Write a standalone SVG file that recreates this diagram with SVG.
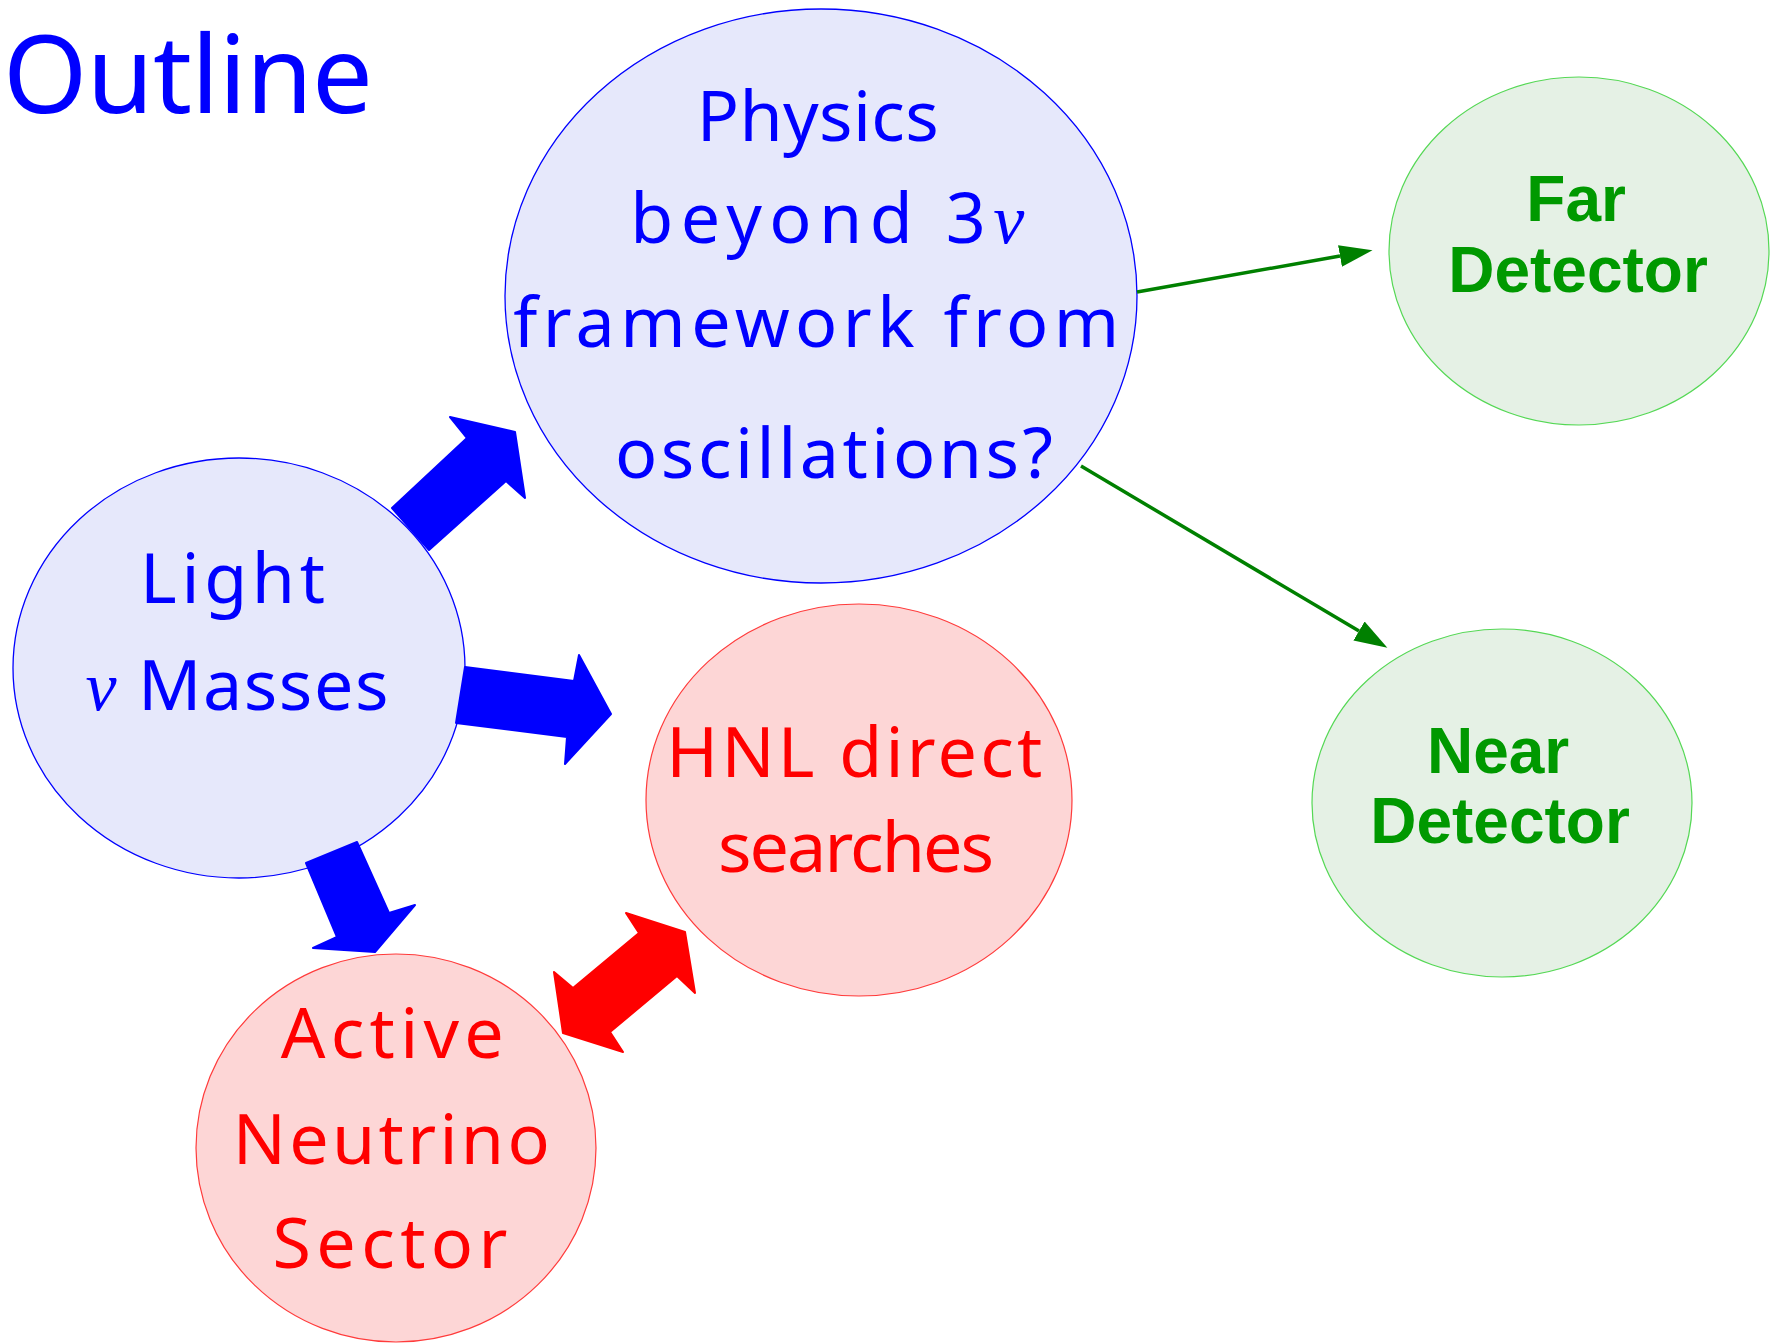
<svg xmlns="http://www.w3.org/2000/svg" width="1775" height="1344" viewBox="0 0 1775 1344">
  <style>
    .hand { font-family: "Noto Sans", "DejaVu Sans", sans-serif; text-anchor: middle; }
    .blue { fill: #0000ff; }
    .red { fill: #ff0000; }
    .nu { font-family: "Liberation Serif", serif; font-style: italic; }
    .det { font-family: "Liberation Sans", Arial, sans-serif; font-weight: bold; font-size: 64px; fill: #009900; text-anchor: middle; }
    .bnode { fill: #e6e8fb; stroke: #0000ff; stroke-width: 1.3; }
    .rnode { fill: #fdd6d6; stroke: #ff3b3b; stroke-width: 1.2; }
    .gnode { fill: #e5f1e5; stroke: #55d855; stroke-width: 1.2; }
    .link { stroke: #008000; stroke-width: 3.5; fill: none; marker-end: url(#head); }
  </style>
  <defs>
    <marker id="head" markerUnits="userSpaceOnUse" markerWidth="34" markerHeight="24" refX="0" refY="11" orient="auto" viewBox="0 0 34 22">
      <path d="M0,0 L33,11 L0,22 Z" fill="#008000"/>
    </marker>
  </defs>

  <rect width="1775" height="1344" fill="#ffffff"/>

  <text id="title" class="hand blue" x="3" y="113" font-size="108" style="text-anchor:start" textLength="370" lengthAdjust="spacing">Outline</text>

  <g id="node-physics">
    <ellipse class="bnode" cx="821" cy="296" rx="316" ry="287"/>
    <text class="hand blue" font-size="70">
      <tspan x="827" y="141" textLength="242" lengthAdjust="spacing">Physics</tspan>
      <tspan x="840" y="243" textLength="394" lengthAdjust="spacing">beyond 3<tspan class="nu">ν</tspan></tspan>
      <tspan x="828" y="347" textLength="606" lengthAdjust="spacing">framework from</tspan>
      <tspan x="834" y="478" textLength="438" lengthAdjust="spacing">oscillations?</tspan>
    </text>
  </g>

  <g id="node-light">
    <ellipse class="bnode" cx="239" cy="668" rx="226" ry="210"/>
    <text class="hand blue" font-size="70">
      <tspan x="244" y="603" textLength="185" lengthAdjust="spacing">Light</tspan>
      <tspan x="237" y="710" textLength="303" lengthAdjust="spacing"><tspan class="nu">ν</tspan> Masses</tspan>
    </text>
  </g>

  <g id="node-hnl">
    <ellipse class="rnode" cx="859" cy="800" rx="213" ry="196"/>
    <text class="hand red" font-size="70">
      <tspan x="865" y="777" textLength="376" lengthAdjust="spacing">HNL direct</tspan>
      <tspan x="856" y="872" textLength="276" lengthAdjust="spacing">searches</tspan>
    </text>
  </g>

  <g id="node-active">
    <ellipse class="rnode" cx="396" cy="1148" rx="200" ry="194"/>
    <text class="hand red" font-size="70">
      <tspan x="404" y="1058" textLength="223" lengthAdjust="spacing">Active</tspan>
      <tspan x="402" y="1164" textLength="317" lengthAdjust="spacing">Neutrino</tspan>
      <tspan x="390" y="1268" textLength="235" lengthAdjust="spacing">Sector</tspan>
    </text>
  </g>

  <g id="node-far">
    <ellipse class="gnode" cx="1579" cy="251" rx="190" ry="174"/>
    <text class="det">
      <tspan x="1585" y="221">Far</tspan>
      <tspan x="1578" y="292">Detector</tspan>
    </text>
  </g>

  <g id="node-near">
    <ellipse class="gnode" cx="1502" cy="803" rx="190" ry="174"/>
    <text class="det">
      <tspan x="1507" y="773">Near</tspan>
      <tspan x="1500" y="843">Detector</tspan>
    </text>
  </g>

  <g id="connectors">
    <!-- thin arrows to the detectors -->
    <line class="link" x1="1137" y1="292" x2="1340" y2="256"/>
    <line class="link" x1="1081" y1="466" x2="1359" y2="631"/>
    <!-- block arrows out of the light-mass node -->
    <polygon fill="#0000ff" stroke="#0000ff" stroke-width="2" stroke-linejoin="round"
             points="392,508 467,438 450,417 515,432 525,498 506,481 429,550"/>
    <polygon fill="#0000ff" stroke="#0000ff" stroke-width="2" stroke-linejoin="round"
             points="465,667 574,681 579,655 611,714 565,764 567,737 456,723"/>
    <polygon fill="#0000ff" stroke="#0000ff" stroke-width="2" stroke-linejoin="round"
             points="306,863 357,842 389,913 415,905 375,952 313,948 337,937"/>
    <!-- two-way arrow between HNL searches and active sector -->
    <polygon fill="#ff0000" stroke="#ff0000" stroke-width="2" stroke-linejoin="round"
             points="626,913 685,932 695,993 677,976 610,1032 623,1052 563,1033 554,972 573,988 639,933"/>
  </g>
</svg>
